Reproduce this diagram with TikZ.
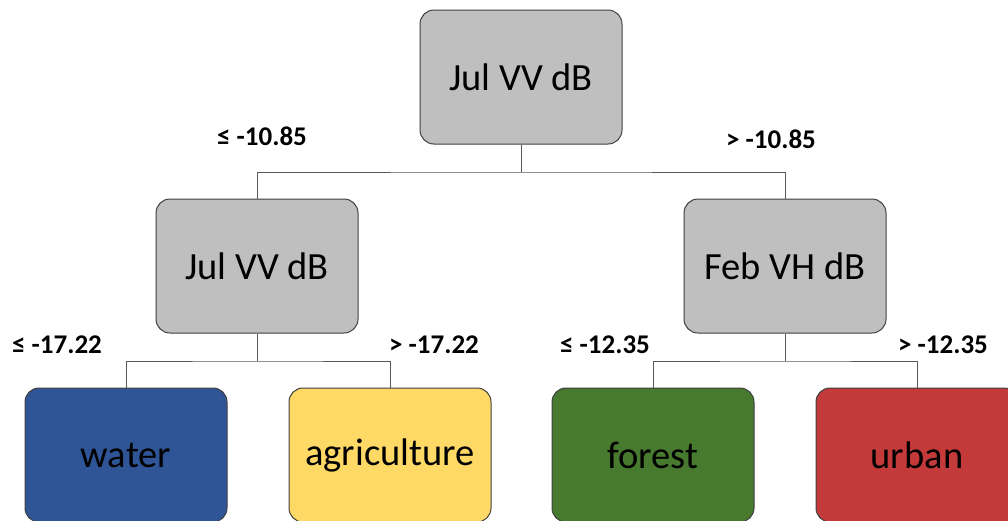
\documentclass[tikz,border=0pt]{standalone}
\usepackage{fontspec}
\setmainfont{Carlito}
\definecolor{boxgray}{HTML}{BFBFBF}
\definecolor{waterblue}{HTML}{2F5597}
\definecolor{agriyellow}{HTML}{FFD966}
\definecolor{forestgreen}{HTML}{47792F}
\definecolor{urbanred}{HTML}{C43A3A}
\definecolor{edgegray}{HTML}{404040}
\definecolor{linegray}{HTML}{595959}
\tikzset{
  treebox/.style={draw=edgegray, line width=1pt, rounded corners=14pt,
    minimum width=202pt, minimum height=134pt, inner sep=0pt,
    font=\fontsize{38.5}{42}\selectfont, text=black},
  conn/.style={draw=linegray, line width=1pt},
  splitlabel/.style={font=\fontsize{27}{30}\selectfont\bfseries, text=black, inner sep=0pt}
}
\begin{document}
\begin{tikzpicture}[x=1pt,y=-1pt]
\useasboundingbox (0,0) rectangle (1008,520);
\clip (0,0) rectangle (1008,520);
\fill[white] (0,0) rectangle (1008,520);
\node[treebox, fill=boxgray] (root) at (521,77) {Jul VV dB};
\node[treebox, fill=boxgray] (l1) at (257,266) {Jul VV dB};
\node[treebox, fill=boxgray] (r1) at (785,266) {Feb VH dB};
\node[treebox, fill=waterblue] (water) at (126,455) {water};
\node[treebox, fill=agriyellow] (agri) at (390,455) {agriculture};
\node[treebox, fill=forestgreen] (forest) at (653,455) {forest};
\node[treebox, fill=urbanred] (urban) at (917,455) {urban};
\coordinate (j0) at (521,172);
\coordinate (j1) at (257,361);
\coordinate (j2) at (785,361);
\draw[conn] (root.south) -- (j0);
\draw[conn] (l1.north) |- (j0) -| (r1.north);
\draw[conn] (l1.south) -- (j1);
\draw[conn] (water.north) |- (j1) -| (agri.north);
\draw[conn] (r1.south) -- (j2);
\draw[conn] (forest.north) |- (j2) -| (urban.north);
\node[splitlabel] (lab0l) at (262,136) {≤ -10.85};
\node[splitlabel] (lab0r) at (771,139) {> -10.85};
\node[splitlabel] (lab1l) at (57,345) {≤ -17.22};
\node[splitlabel] (lab1r) at (434,345) {> -17.22};
\node[splitlabel] (lab2l) at (605,345) {≤ -12.35};
\node[splitlabel] (lab2r) at (943,345) {> -12.35};
\end{tikzpicture}
\end{document}
